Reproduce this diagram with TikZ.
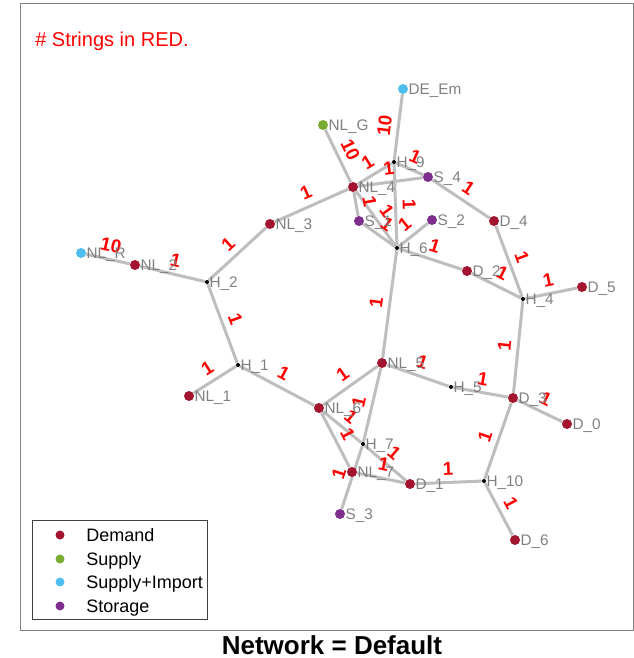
\documentclass[tikz,border=0pt]{standalone}
\usepackage{fontspec}
\setmainfont{Liberation Sans}
\usepackage{tikz}

\definecolor{cdem}{RGB}{162,20,47}
\definecolor{csup}{RGB}{119,172,48}
\definecolor{cimp}{RGB}{77,190,238}
\definecolor{csto}{RGB}{126,47,142}
\definecolor{clink}{RGB}{190,190,190}

\pgfdeclarelayer{bg}
\pgfsetlayers{bg,main}

\begin{document}
\begin{tikzpicture}[x=0.75pt,y=-0.75pt,
        dot/.style={circle,inner sep=0pt,minimum size=7.5pt,label distance=2pt},
        dem/.style={dot,fill=cdem},
        sup/.style={dot,fill=csup},
        imp/.style={dot,fill=cimp},
        sto/.style={dot,fill=csto},
        hub/.style={circle,inner sep=0pt,minimum size=3pt,fill=black,label distance=4.5pt},
        lab/.style={text=gray,font=\fontsize{11.5}{12}\selectfont,inner sep=0pt,anchor=base west,yshift=-4.2pt},
        link/.style={line width=2.25pt,draw=clink},
        elab/.style={midway,sloped,above=1pt,text=red,font=\bfseries\fontsize{14}{14}\selectfont}]
\useasboundingbox (0,0) rectangle (634,658);
\draw[gray,line width=0.75pt] (20,3) rectangle (633,630);

\node[text=red,font=\fontsize{15}{15}\selectfont,anchor=base west,inner sep=0pt] (title) at (35,46) {\# Strings in RED.};
\node[font=\bfseries\fontsize{19.5}{20}\selectfont,anchor=base,inner sep=0pt] (caption) at (332,654) {Network = Default};

\foreach \n/\txt/\x/\y in {nl1/NL\_1/189/396, nl2/NL\_2/135/265, nl3/NL\_3/270/224, nl4/NL\_4/353/187,
        nl5/NL\_5/382/363, nl6/NL\_6/319/408, nl7/NL\_7/352/472, d0/D\_0/567/424, d1/D\_1/410/484,
        d2/D\_2/467/271, d3/D\_3/513/398, d4/D\_4/494/221, d5/D\_5/582/287, d6/D\_6/515/540}
{
        \node[dem,label={[lab]0:\txt}] (\n) at (\x,\y) {};
}
\node[sup,label={[lab]0:NL\_G}] (nlg) at (323,125) {};
\node[imp,label={[lab]0:DE\_Em}] (deem) at (403,89) {};
\node[imp,label={[lab]0:NL\_R}] (nlr) at (81,253) {};
\foreach \n/\txt/\x/\y in {s1/S\_1/359/221, s2/S\_2/432/220, s3/S\_3/340/514, s4/S\_4/428/177}
{
        \node[sto,label={[lab]0:\txt}] (\n) at (\x,\y) {};
}
\foreach \n/\txt/\x/\y in {h1/H\_1/238/365, h2/H\_2/207/282, h4/H\_4/523/299, h5/H\_5/451/387,
        h6/H\_6/397/248, h7/H\_7/363/444, h9/H\_9/394/162, h10/H\_10/484/481}
{
        \node[hub,label={[lab]0:\txt}] (\n) at (\x,\y) {};
}

\begin{pgfonlayer}{bg}
\draw[link] (nlr) -- node[elab] (e1) {10} (nl2)
(nl2) -- node[elab] (e2) {1} (h2)
(h2) -- node[elab] (e3) {1} (nl3)
(nl3) -- node[elab] (e4) {1} (nl4)
(h2) -- node[elab] (e5) {1} (h1)
(h1) -- node[elab] (e6) {1} (nl1)
(h1) -- node[elab] (e7) {1} (nl6)
(nlg) -- node[elab] (e8) {10} (nl4)
(deem) -- node[elab] (e9) {10} (h9)
(nl4) -- node[elab] (e10) {1} (h9)
(h9) -- node[elab] (e11) {1} (h6)
(h9) -- node[elab] (e12) {1} (s4)
(nl4) -- node[elab] (e13) {1} (s4)
(s4) -- node[elab] (e14) {1} (d4)
(nl4) -- node[elab] (e15) {1} (s1)
(nl4) -- node[elab] (e16) {1} (h6)
(s1) -- node[elab] (e17) {1} (h6)
(s2) -- node[elab] (e18) {1} (h6)
(h6) -- node[elab] (e19) {1} (d2)
(d2) -- node[elab] (e20) {1} (h4)
(d4) -- node[elab] (e21) {1} (h4)
(h4) -- node[elab] (e22) {1} (d5)
(h4) -- node[elab] (e23) {1} (d3)
(h6) -- node[elab] (e24) {1} (nl5)
(nl5) -- node[elab] (e25) {1} (h5)
(h5) -- node[elab] (e26) {1} (d3)
(d3) -- node[elab] (e27) {1} (d0)
(d3) -- node[elab] (e28) {1} (h10)
(h10) -- node[elab] (e29) {1} (d1)
(h10) -- node[elab] (e30) {1} (d6)
(nl5) -- node[elab] (e31) {1} (nl6)
(nl5) -- node[elab] (e32) {1} (h7)
(nl6) -- node[elab] (e33) {1} (h7)
(nl6) -- node[elab] (e34) {1} (nl7)
(h7) -- node[elab] (e35) {1} (d1)
(h7) -- node[elab] (e36) {1} (s3)
(nl7) -- node[elab] (e37) {1} (d1);
\end{pgfonlayer}

% legend
\draw[darkgray,line width=0.75pt] (32,520.5) rectangle (207.5,619);
\foreach \i/\c/\txt/\y in {1/cdem/Demand/535, 2/csup/Supply/559, 3/cimp/Supply+Import/582, 4/csto/Storage/606}
{
        \node[circle,inner sep=0pt,minimum size=6.75pt,fill=\c] (m\i) at (60,\y) {};
        \node[font=\fontsize{13.5}{14}\selectfont,anchor=base west,inner sep=0pt,yshift=-4.9pt] (t\i) at (86,\y) {\txt};
}
\end{tikzpicture}
\end{document}
